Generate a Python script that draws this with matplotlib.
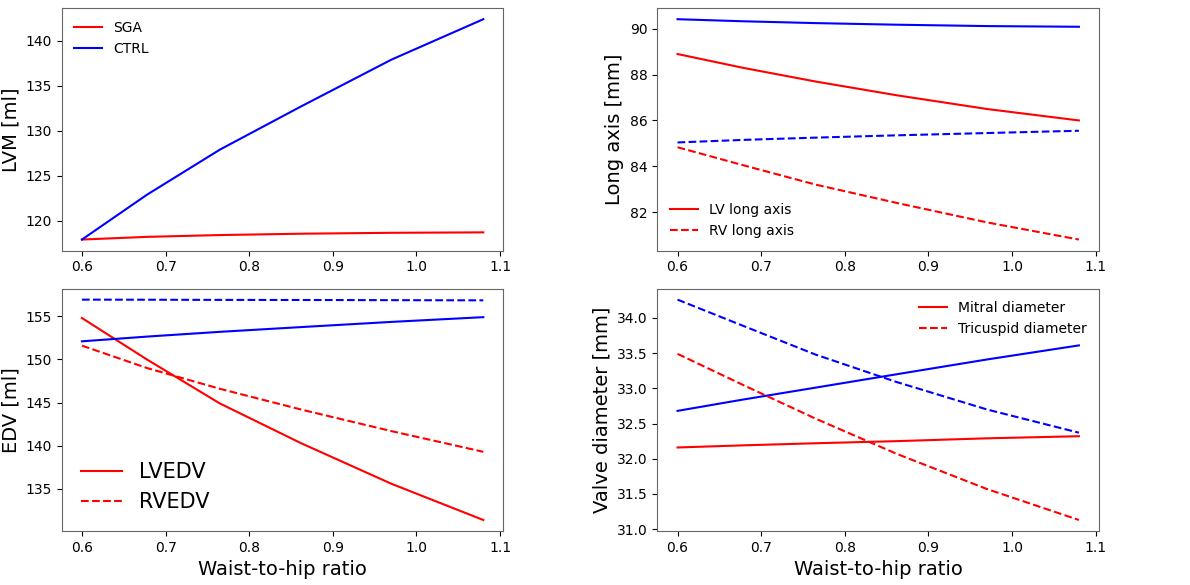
import matplotlib
matplotlib.use("Agg")
import matplotlib.pyplot as plt

# Waist-to-hip ratio sample points
whr = [0.6, 0.678, 0.765, 0.862, 0.97, 1.08]

# LVM [ml]
lvm_sga = [117.9, 118.2, 118.4, 118.55, 118.65, 118.7]
lvm_ctrl = [117.9, 122.9, 127.9, 132.7, 137.9, 142.4]

# Long axis [mm]
lv_long_sga = [88.9, 88.3, 87.7, 87.1, 86.5, 86.0]
lv_long_ctrl = [90.42, 90.33, 90.25, 90.18, 90.12, 90.09]
rv_long_sga = [84.83, 84.05, 83.2, 82.4, 81.55, 80.8]
rv_long_ctrl = [85.04, 85.15, 85.25, 85.35, 85.45, 85.55]

# EDV [ml]
lvedv_sga = [154.8, 149.98, 144.9, 140.3, 135.6, 131.4]
lvedv_ctrl = [152.1, 152.65, 153.2, 153.75, 154.35, 154.9]
rvedv_sga = [151.6, 149.0, 146.6, 144.2, 141.7, 139.3]
rvedv_ctrl = [156.93, 156.92, 156.9, 156.89, 156.87, 156.85]

# Valve diameter [mm]
mitral_sga = [32.16, 32.19, 32.22, 32.25, 32.29, 32.32]
mitral_ctrl = [32.68, 32.84, 33.01, 33.2, 33.41, 33.61]
tricuspid_sga = [33.49, 33.05, 32.57, 32.07, 31.57, 31.13]
tricuspid_ctrl = [34.26, 33.89, 33.48, 33.09, 32.70, 32.37]

fig, axes = plt.subplots(2, 2, figsize=(11.9, 5.85), dpi=100)
fig.subplots_adjust(left=0.052, right=0.9235, top=0.986, bottom=0.0923,
                    wspace=0.349, hspace=0.157)

ax = axes[0, 0]
ax.plot(whr, lvm_sga, color="red", label="SGA")
ax.plot(whr, lvm_ctrl, color="blue", label="CTRL")
ax.set_ylabel("LVM [ml]", fontsize=14)
ax.legend(loc="upper left", frameon=False, fontsize=10)

ax = axes[0, 1]
ax.plot(whr, lv_long_sga, color="red", label="LV long axis")
ax.plot(whr, lv_long_ctrl, color="blue")
ax.plot(whr, rv_long_sga, color="red", linestyle="--", label="RV long axis")
ax.plot(whr, rv_long_ctrl, color="blue", linestyle="--")
ax.set_ylabel("Long axis [mm]", fontsize=14)
ax.legend(loc="lower left", frameon=False, fontsize=10)

ax = axes[1, 0]
ax.plot(whr, lvedv_sga, color="red", label="LVEDV")
ax.plot(whr, lvedv_ctrl, color="blue")
ax.plot(whr, rvedv_sga, color="red", linestyle="--", label="RVEDV")
ax.plot(whr, rvedv_ctrl, color="blue", linestyle="--")
ax.set_ylabel("EDV [ml]", fontsize=14)
ax.set_xlabel("Waist-to-hip ratio", fontsize=14)
ax.legend(loc="lower left", frameon=False, fontsize=15)

ax = axes[1, 1]
ax.plot(whr, mitral_sga, color="red", label="Mitral diameter")
ax.plot(whr, mitral_ctrl, color="blue")
ax.plot(whr, tricuspid_sga, color="red", linestyle="--", label="Tricuspid diameter")
ax.plot(whr, tricuspid_ctrl, color="blue", linestyle="--")
ax.set_ylabel("Valve diameter [mm]", fontsize=14)
ax.set_xlabel("Waist-to-hip ratio", fontsize=14)
ax.legend(loc="upper right", frameon=False, fontsize=10)

for ax in axes.flat:
    ax.set_xticks([0.6, 0.7, 0.8, 0.9, 1.0, 1.1])
    for s in ax.spines.values():
        s.set_edgecolor("0.4")

fig.savefig("out.png", dpi=100)
